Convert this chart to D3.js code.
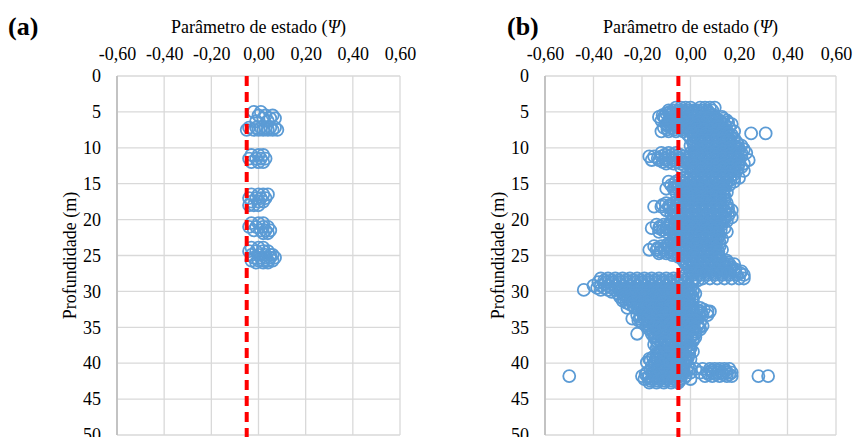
<!DOCTYPE html>
<html>
<head>
<meta charset="utf-8">
<script src="https://cdn.jsdelivr.net/npm/d3@7"></script>
<style>
  body { margin: 0; background: #fff; }
  text { font-family: "Liberation Serif", "Times New Roman", serif; fill: #000; }
</style>
</head>
<body>
<svg id="chart" width="853" height="437"></svg>
<script>
// tick values
var xTicks = [-0.6, -0.4, -0.2, 0, 0.2, 0.4, 0.6];
var yTicks = [0, 5, 10, 15, 20, 25, 30, 35, 40, 45, 50];
var refPsi = -0.05;

// panel (a): [depth, psi, psi, ...]
var rowsA = [
  [5.0, -0.02, 0.01],
  [5.5, 0.0, 0.03, 0.06],
  [5.9, 0.02, 0.05, 0.07],
  [6.3, -0.01, 0.04],
  [7.2, -0.04, -0.01, 0.01, 0.03, 0.05, 0.07],
  [7.5, -0.05, -0.02, 0.0, 0.02, 0.04, 0.06, 0.08],
  [11.0, -0.03, 0.0, 0.02],
  [11.5, -0.04, -0.01, 0.01, 0.03],
  [12.0, -0.03, 0.0, 0.02],
  [16.5, -0.03, 0.0, 0.02, 0.04],
  [17.0, -0.04, -0.01, 0.01, 0.03],
  [17.5, -0.03, 0.0, 0.02],
  [18.0, -0.04, -0.02, 0.0],
  [20.5, -0.03, 0.0, 0.02],
  [21.0, -0.04, -0.01, 0.02, 0.04],
  [21.5, -0.02, 0.01, 0.03, 0.05],
  [21.9, 0.02, 0.04],
  [23.9, -0.03, 0.0, 0.02],
  [24.4, -0.04, -0.01, 0.02, 0.04],
  [24.9, -0.03, 0.0, 0.03, 0.05, 0.06],
  [25.3, -0.02, 0.01, 0.03, 0.05, 0.07],
  [25.7, -0.03, 0.0, 0.02, 0.04, 0.06],
  [26.0, -0.01, 0.02, 0.04]
];

// panel (b): [depth, psi, psi, ...]
var rowsB = [
  [4.4, -0.06, -0.04, -0.02, 0.0, 0.04, 0.06, 0.08, 0.10],
  [4.8, -0.09, -0.07, -0.05, -0.03, -0.01, 0.01, 0.03, 0.05, 0.07, 0.09],
  [5.2, -0.10, -0.08, -0.06, -0.04, -0.02, 0.0, 0.02, 0.05, 0.08],
  [5.7, -0.13, -0.11, -0.08, -0.05, -0.02, 0.01, 0.04, 0.07, 0.10, 0.13],
  [6.2, -0.12, -0.09, -0.06, -0.03, 0.0, 0.03, 0.06, 0.09, 0.12, 0.15],
  [6.7, -0.10, -0.07, -0.04, -0.01, 0.02, 0.05, 0.08, 0.11, 0.14, 0.17],
  [7.2, -0.11, -0.08, -0.05, -0.02, 0.01, 0.04, 0.07, 0.10, 0.13, 0.16],
  [7.7, -0.12, -0.09, -0.06, -0.03, 0.0, 0.03, 0.06, 0.09, 0.12, 0.15, 0.18],
  [8.0, 0.25, 0.31],
  [8.2, -0.01, 0.02, 0.05, 0.08, 0.11, 0.14, 0.17],
  [8.7, 0.0, 0.03, 0.06, 0.09, 0.12, 0.15, 0.18],
  [9.2, 0.01, 0.04, 0.07, 0.10, 0.13, 0.16, 0.19],
  [9.7, 0.0, 0.03, 0.06, 0.09, 0.12, 0.15, 0.18, 0.21],
  [10.2, 0.02, 0.05, 0.08, 0.11, 0.14, 0.17, 0.20, 0.22],
  [10.7, -0.12, -0.09, -0.06, 0.0, 0.03, 0.06, 0.09, 0.12, 0.15, 0.18, 0.21, 0.23],
  [11.2, -0.17, -0.15, -0.12, -0.09, -0.06, -0.03, 0.0, 0.03, 0.06, 0.09, 0.12, 0.15, 0.18, 0.21],
  [11.7, -0.16, -0.13, -0.10, -0.07, -0.04, -0.01, 0.02, 0.05, 0.08, 0.11, 0.14, 0.17, 0.20, 0.24],
  [12.2, -0.10, -0.07, -0.04, -0.01, 0.02, 0.05, 0.08, 0.11, 0.14, 0.17, 0.20, 0.22],
  [12.7, -0.04, 0.0, 0.03, 0.06, 0.09, 0.12, 0.15, 0.18, 0.21],
  [13.2, 0.01, 0.04, 0.07, 0.10, 0.13, 0.16, 0.19, 0.22],
  [13.7, 0.0, 0.03, 0.06, 0.09, 0.12, 0.15, 0.18],
  [14.2, -0.03, 0.0, 0.03, 0.06, 0.09, 0.12, 0.15, 0.18, 0.20],
  [14.7, -0.09, -0.06, -0.03, 0.0, 0.03, 0.06, 0.09, 0.12, 0.15, 0.18],
  [15.2, -0.08, -0.05, -0.02, 0.01, 0.04, 0.07, 0.10, 0.13, 0.16],
  [15.7, -0.10, -0.07, -0.04, -0.01, 0.02, 0.05, 0.08, 0.11, 0.14],
  [16.2, -0.06, -0.03, 0.0, 0.03, 0.06, 0.09, 0.12, 0.15],
  [16.7, -0.03, 0.0, 0.03, 0.06, 0.09, 0.12, 0.14],
  [17.2, -0.04, -0.01, 0.02, 0.05, 0.08, 0.11, 0.14],
  [17.7, -0.10, -0.07, -0.04, -0.01, 0.02, 0.05, 0.08, 0.11, 0.15],
  [18.2, -0.15, -0.12, -0.09, -0.06, -0.03, 0.0, 0.03, 0.06, 0.09, 0.12, 0.15],
  [18.7, -0.10, -0.07, -0.04, -0.01, 0.02, 0.05, 0.08, 0.11, 0.14, 0.17],
  [19.2, -0.08, -0.05, -0.02, 0.01, 0.04, 0.07, 0.10, 0.13, 0.16],
  [19.7, -0.07, -0.04, -0.01, 0.02, 0.05, 0.08, 0.11, 0.14, 0.17],
  [20.2, -0.06, -0.03, 0.0, 0.03, 0.06, 0.09, 0.12, 0.15],
  [20.7, -0.14, -0.11, -0.08, -0.05, -0.02, 0.01, 0.04, 0.07, 0.10, 0.13],
  [21.2, -0.16, -0.13, -0.10, -0.07, -0.04, -0.01, 0.02, 0.05, 0.08, 0.11, 0.14],
  [21.7, -0.13, -0.10, -0.07, -0.04, -0.01, 0.02, 0.05, 0.08, 0.11, 0.15],
  [22.2, -0.06, -0.03, 0.0, 0.03, 0.06, 0.09, 0.12],
  [22.7, -0.07, -0.04, -0.01, 0.02, 0.05, 0.08, 0.11, 0.13],
  [23.2, -0.08, -0.05, -0.02, 0.01, 0.04, 0.07, 0.10, 0.12],
  [23.7, -0.15, -0.12, -0.09, -0.06, -0.03, 0.0, 0.03, 0.06, 0.09, 0.12],
  [24.2, -0.17, -0.14, -0.11, -0.08, -0.05, -0.02, 0.01, 0.04, 0.07, 0.10, 0.13],
  [24.7, -0.13, -0.10, -0.07, -0.04, -0.01, 0.02, 0.05, 0.08, 0.11],
  [25.2, -0.05, -0.02, 0.01, 0.04, 0.07, 0.10, 0.12],
  [25.7, -0.03, 0.0, 0.03, 0.06, 0.09, 0.12, 0.15],
  [26.2, -0.02, 0.01, 0.04, 0.07, 0.10, 0.13, 0.16, 0.18],
  [26.7, -0.01, 0.02, 0.05, 0.08, 0.11, 0.14, 0.17],
  [27.2, 0.0, 0.03, 0.06, 0.09, 0.12, 0.15, 0.18, 0.21],
  [27.7, -0.02, 0.01, 0.04, 0.07, 0.10, 0.13, 0.16, 0.19, 0.22],
  [28.2, -0.37, -0.34, -0.31, -0.28, -0.25, -0.22, -0.19, -0.16, -0.13, -0.10, -0.07, -0.04, -0.01, 0.02, 0.05, 0.08, 0.11, 0.14, 0.17, 0.20, 0.22],
  [28.7, -0.38, -0.35, -0.32, -0.29, -0.26, -0.23, -0.20, -0.17, -0.14, -0.11, -0.08, -0.05, -0.02, 0.01],
  [29.2, -0.40, -0.37, -0.34, -0.31, -0.28, -0.25, -0.22, -0.19, -0.16, -0.13, -0.10, -0.07, -0.04, -0.01],
  [29.8, -0.44, -0.37, -0.34, -0.31, -0.28, -0.25, -0.22, -0.19, -0.16, -0.13, -0.10, -0.07, -0.04, -0.01, 0.01],
  [30.3, -0.30, -0.27, -0.24, -0.21, -0.18, -0.15, -0.12, -0.09, -0.06, -0.03, 0.0, 0.02],
  [30.8, -0.29, -0.26, -0.23, -0.20, -0.17, -0.14, -0.11, -0.08, -0.05, -0.02, 0.01],
  [31.3, -0.28, -0.25, -0.22, -0.19, -0.16, -0.13, -0.10, -0.07, -0.04, -0.01, 0.01],
  [31.8, -0.25, -0.22, -0.19, -0.16, -0.13, -0.10, -0.07, -0.04, -0.01],
  [32.3, -0.26, -0.23, -0.20, -0.17, -0.14, -0.11, -0.08, -0.05, -0.02, 0.01, 0.04],
  [32.8, -0.20, -0.17, -0.14, -0.11, -0.08, -0.05, -0.02, 0.01, 0.04, 0.07, 0.08],
  [33.3, -0.22, -0.19, -0.16, -0.13, -0.10, -0.07, -0.04, -0.01, 0.02, 0.05, 0.07],
  [33.8, -0.24, -0.21, -0.18, -0.15, -0.12, -0.09, -0.06, -0.03, 0.0, 0.02],
  [34.3, -0.20, -0.17, -0.14, -0.11, -0.08, -0.05, -0.02, 0.01, 0.04],
  [34.8, -0.18, -0.15, -0.12, -0.09, -0.06, -0.03, 0.0, 0.03, 0.05],
  [35.3, -0.17, -0.14, -0.11, -0.08, -0.05, -0.02, 0.01, 0.04],
  [35.9, -0.22, -0.16, -0.13, -0.10, -0.07, -0.04, -0.01, 0.02],
  [36.4, -0.15, -0.12, -0.09, -0.06, -0.03, 0.0, 0.02],
  [36.9, -0.14, -0.11, -0.08, -0.05, -0.02, 0.01],
  [37.4, -0.15, -0.12, -0.09, -0.06, -0.03, 0.0],
  [37.9, -0.14, -0.11, -0.08, -0.05, -0.02, 0.0],
  [38.4, -0.13, -0.10, -0.07, -0.04, -0.01, 0.01],
  [38.9, -0.14, -0.11, -0.08, -0.05, -0.02],
  [39.4, -0.17, -0.14, -0.11, -0.08, -0.05, -0.02, 0.0],
  [39.9, -0.18, -0.15, -0.12, -0.09, -0.06, -0.03],
  [40.4, -0.16, -0.13, -0.10, -0.07, -0.04, -0.01],
  [40.8, -0.12, -0.09, -0.06, -0.03, 0.0, 0.02, 0.05, 0.08, 0.10, 0.12, 0.14, 0.16],
  [41.3, -0.18, -0.15, -0.12, -0.09, -0.06, -0.03, 0.0, 0.04, 0.07, 0.09, 0.11, 0.13, 0.15, 0.17],
  [41.8, -0.50, -0.20, -0.17, -0.14, -0.11, -0.08, -0.05, -0.02, 0.06, 0.09, 0.12, 0.15, 0.17, 0.28, 0.32],
  [42.2, -0.19, -0.16, -0.13, -0.10, -0.07, -0.04, 0.0],
  [42.7, -0.17, -0.14, -0.11, -0.08, -0.05]
];

// panel (b), readings inside the dense core
var rowsB2 = [
  [5.0, -0.085, -0.055, -0.025, 0.005, 0.035, 0.065],
  [5.45, -0.115, -0.085, -0.055, -0.025, 0.005, 0.035, 0.065, 0.095],
  [5.95, -0.105, -0.075, -0.045, -0.015, 0.015, 0.045, 0.075, 0.105, 0.135],
  [6.45, -0.085, -0.055, -0.025, 0.005, 0.035, 0.065, 0.095, 0.125, 0.155],
  [6.95, -0.095, -0.065, -0.035, -0.005, 0.025, 0.055, 0.085, 0.115, 0.145],
  [7.45, -0.095, -0.065, -0.035, -0.005, 0.025, 0.055, 0.085, 0.115, 0.145],
  [7.95, 0.005, 0.035, 0.065, 0.095, 0.125, 0.155],
  [8.45, 0.015, 0.045, 0.075, 0.105, 0.135, 0.165],
  [8.95, 0.015, 0.045, 0.075, 0.105, 0.135, 0.165],
  [9.45, 0.015, 0.045, 0.075, 0.105, 0.135, 0.165, 0.195],
  [9.95, 0.015, 0.045, 0.075, 0.105, 0.135, 0.165, 0.195],
  [10.45, 0.015, 0.045, 0.075, 0.105, 0.135, 0.165, 0.195],
  [10.95, -0.105, -0.075, -0.045, 0.015, 0.045, 0.075, 0.105, 0.135, 0.165, 0.195],
  [11.45, -0.135, -0.105, -0.075, -0.045, -0.015, 0.015, 0.045, 0.075, 0.105, 0.135, 0.165, 0.195],
  [11.95, -0.115, -0.085, -0.055, -0.025, 0.005, 0.035, 0.065, 0.095, 0.125, 0.155, 0.185],
  [12.45, -0.025, 0.015, 0.045, 0.075, 0.105, 0.135, 0.165, 0.195],
  [12.95, 0.015, 0.045, 0.075, 0.105, 0.135, 0.165, 0.195],
  [13.45, 0.015, 0.045, 0.075, 0.105, 0.135, 0.165],
  [13.95, 0.015, 0.045, 0.075, 0.105, 0.135, 0.165],
  [14.45, -0.045, -0.015, 0.015, 0.045, 0.075, 0.105, 0.135, 0.165],
  [14.95, -0.065, -0.035, -0.005, 0.025, 0.055, 0.085, 0.115, 0.145],
  [15.45, -0.065, -0.035, -0.005, 0.025, 0.055, 0.085, 0.115, 0.135],
  [15.95, -0.045, -0.015, 0.015, 0.045, 0.075, 0.105, 0.135],
  [16.45, -0.015, 0.015, 0.045, 0.075, 0.105, 0.135],
  [16.95, -0.015, 0.015, 0.045, 0.075, 0.105, 0.125],
  [17.45, -0.055, -0.025, 0.005, 0.035, 0.065, 0.095, 0.125],
  [17.95, -0.115, -0.085, -0.055, -0.025, 0.005, 0.035, 0.065, 0.095, 0.125],
  [18.45, -0.085, -0.055, -0.025, 0.005, 0.035, 0.065, 0.095, 0.125, 0.155],
  [18.95, -0.065, -0.035, -0.005, 0.025, 0.055, 0.085, 0.115, 0.145],
  [19.45, -0.055, -0.025, 0.005, 0.035, 0.065, 0.095, 0.125, 0.155],
  [19.95, -0.045, -0.015, 0.015, 0.045, 0.075, 0.105, 0.135],
  [20.45, -0.085, -0.055, -0.025, 0.005, 0.035, 0.065, 0.095, 0.125],
  [20.95, -0.125, -0.095, -0.065, -0.035, -0.005, 0.025, 0.055, 0.085, 0.115],
  [21.45, -0.115, -0.085, -0.055, -0.025, 0.005, 0.035, 0.065, 0.095, 0.125],
  [21.95, -0.045, -0.015, 0.015, 0.045, 0.075, 0.105],
  [22.45, -0.055, -0.025, 0.005, 0.035, 0.065, 0.095, 0.115],
  [22.95, -0.065, -0.035, -0.005, 0.025, 0.055, 0.085, 0.105],
  [23.45, -0.095, -0.065, -0.035, -0.005, 0.025, 0.055, 0.085, 0.105],
  [23.95, -0.135, -0.105, -0.075, -0.045, -0.015, 0.015, 0.045, 0.075, 0.105],
  [24.45, -0.125, -0.095, -0.065, -0.035, -0.005, 0.025, 0.055, 0.085, 0.115],
  [24.95, -0.075, -0.045, -0.015, 0.015, 0.045, 0.075, 0.105],
  [25.45, -0.035, -0.005, 0.025, 0.055, 0.085, 0.115],
  [25.95, -0.015, 0.015, 0.045, 0.075, 0.105, 0.135, 0.155],
  [26.45, -0.005, 0.025, 0.055, 0.085, 0.115, 0.145, 0.165],
  [26.95, 0.015, 0.045, 0.075, 0.105, 0.135, 0.165, 0.185],
  [27.45, 0.005, 0.035, 0.065, 0.095, 0.125, 0.155, 0.185, 0.205],
  [28.45, -0.355, -0.325, -0.295, -0.265, -0.235, -0.205, -0.175, -0.145, -0.115, -0.085, -0.055, -0.025, 0.005, 0.03],
  [28.95, -0.355, -0.325, -0.295, -0.265, -0.235, -0.205, -0.175, -0.145, -0.115, -0.085, -0.055, -0.025],
  [29.5, -0.385, -0.355, -0.325, -0.295, -0.265, -0.235, -0.205, -0.175, -0.145, -0.115, -0.085, -0.055, -0.025, 0.0],
  [30.05, -0.325, -0.285, -0.255, -0.225, -0.195, -0.165, -0.135, -0.105, -0.075, -0.045, -0.015, 0.01],
  [30.55, -0.275, -0.245, -0.215, -0.185, -0.155, -0.125, -0.095, -0.065, -0.035, -0.005],
  [31.05, -0.275, -0.245, -0.215, -0.185, -0.155, -0.125, -0.095, -0.065, -0.035, -0.005],
  [31.55, -0.265, -0.235, -0.205, -0.175, -0.145, -0.115, -0.085, -0.055, -0.025],
  [32.05, -0.235, -0.205, -0.175, -0.145, -0.115, -0.085, -0.055, -0.025, 0.005],
  [32.55, -0.215, -0.185, -0.155, -0.125, -0.095, -0.065, -0.035, -0.005, 0.025, 0.055],
  [33.05, -0.195, -0.165, -0.135, -0.105, -0.075, -0.045, -0.015, 0.015, 0.045],
  [33.55, -0.205, -0.175, -0.145, -0.115, -0.085, -0.055, -0.025, 0.005],
  [34.05, -0.215, -0.185, -0.155, -0.125, -0.095, -0.065, -0.035, -0.005, 0.02],
  [34.55, -0.175, -0.145, -0.115, -0.085, -0.055, -0.025, 0.005, 0.03],
  [35.05, -0.165, -0.135, -0.105, -0.075, -0.045, -0.015, 0.015, 0.035],
  [35.6, -0.155, -0.125, -0.095, -0.065, -0.035, -0.005, 0.02],
  [36.15, -0.145, -0.115, -0.085, -0.055, -0.025, 0.005],
  [36.65, -0.135, -0.105, -0.075, -0.045, -0.015, 0.01],
  [37.15, -0.135, -0.105, -0.075, -0.045, -0.015],
  [37.65, -0.135, -0.105, -0.075, -0.045, -0.015],
  [38.15, -0.125, -0.095, -0.065, -0.035, -0.005],
  [38.65, -0.125, -0.095, -0.065, -0.035, -0.005],
  [39.15, -0.155, -0.125, -0.095, -0.065, -0.035, -0.01],
  [39.65, -0.165, -0.135, -0.105, -0.075, -0.045, -0.015],
  [40.15, -0.145, -0.115, -0.085, -0.055, -0.025],
  [41.05, -0.165, -0.135, -0.105, -0.075, -0.045, -0.015, 0.085, 0.115, 0.145],
  [41.55, -0.185, -0.155, -0.125, -0.095, -0.065, -0.035, 0.075, 0.105, 0.135, 0.16],
  [42.0, -0.175, -0.145, -0.115, -0.085, -0.055, -0.025],
  [42.45, -0.165, -0.135, -0.105, -0.075, -0.045]
];

var svg = d3.select("#chart");
svg.append("rect").attr("width", 853).attr("height", 437).style("fill", "#fff");

var fmt = function(d) { return d3.format(".2f")(d).replace(".", ",").replace("−", "-"); };

function drawPanel(tag, rows, left, right, tagX) {
  var x = d3.scaleLinear().domain([-0.6, 0.6]).range([left, right]);
  var y = d3.scaleLinear().domain([0, 50]).range([76, 435]);
  var g = svg.append("g");

  // gridlines
  g.selectAll(".vg").data(xTicks).enter().append("line")
    .attr("x1", d => x(d)).attr("x2", d => x(d)).attr("y1", y(0)).attr("y2", y(50))
    .style("stroke", "#d9d9d9").style("stroke-width", 1.3);
  g.selectAll(".hg").data(yTicks).enter().append("line")
    .attr("x1", left).attr("x2", right).attr("y1", d => y(d)).attr("y2", d => y(d))
    .style("stroke", "#d9d9d9").style("stroke-width", 1.3);
  g.append("line").attr("x1", left).attr("x2", left).attr("y1", y(0)).attr("y2", y(50))
    .style("stroke", "#bfbfbf").style("stroke-width", 1.8);

  // axes (labels only)
  var xa = g.append("g").attr("transform", "translate(0," + y(0) + ")")
    .call(d3.axisTop(x).tickValues(xTicks).tickSize(0).tickPadding(16).tickFormat(fmt));
  var ya = g.append("g").attr("transform", "translate(" + left + ",0)")
    .call(d3.axisLeft(y).tickValues(yTicks).tickSize(0).tickPadding(16));
  [xa, ya].forEach(function(a) {
    a.select(".domain").remove();
    a.attr("font-family", null);
    a.selectAll("text").style("font-family", "'Liberation Serif', 'Times New Roman', serif")
      .style("font-size", "18px").style("fill", "#000");
  });

  // points
  var pts = [];
  rows.forEach(function(r) { r.slice(1).forEach(function(v) { pts.push({ d: r[0], v: v }); }); });
  g.selectAll(".pt").data(pts).enter().append("circle")
    .attr("cx", d => x(d.v)).attr("cy", d => y(d.d)).attr("r", 6)
    .style("fill", "none").style("stroke", "#5b9bd5").style("stroke-width", 1.8);

  // reference line
  g.append("line").attr("x1", x(refPsi)).attr("x2", x(refPsi)).attr("y1", y(0)).attr("y2", 437)
    .style("stroke", "#ff0000").style("stroke-width", 4).style("stroke-dasharray", "10,6");

  // titles
  g.append("text").attr("x", (left + right) / 2).attr("y", 33).attr("text-anchor", "middle")
    .style("font-size", "18px")
    .html("Parâmetro de estado (<tspan font-style='italic'>Ψ</tspan>)");
  g.append("text").attr("transform", "translate(" + (left - 47) + "," + ((y(0) + y(50)) / 2) + ") rotate(-90)")
    .attr("text-anchor", "middle").attr("dy", "0.35em")
    .style("font-size", "18px").text("Profundidade (m)");
  g.append("text").attr("x", tagX).attr("y", 35)
    .style("font-size", "26px").style("font-weight", "bold").text(tag);
}

drawPanel("(a)", rowsA, 117, 400, 8);
drawPanel("(b)", rowsB.concat(rowsB2), 545, 836, 507);
</script>
</body>
</html>
